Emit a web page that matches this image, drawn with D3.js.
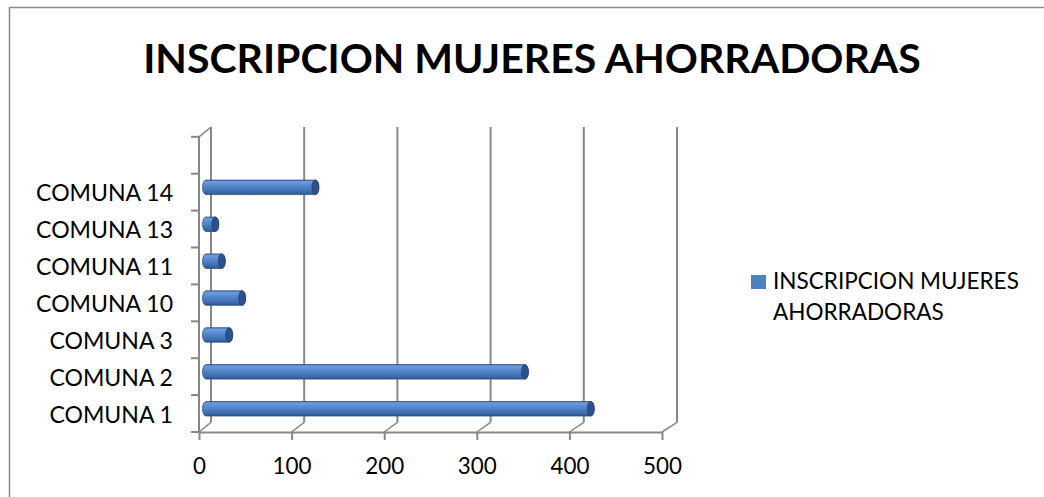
<!DOCTYPE html>
<html>
<head>
<meta charset="utf-8">
<script src="https://cdn.jsdelivr.net/npm/d3@7"></script>
<style>
  body { margin: 0; background: #fff; }
  text { font-family: Lato, "Liberation Sans", Arial, sans-serif; fill: #000; }
</style>
</head>
<body>
<script>
// data
const categories = ["COMUNA 1", "COMUNA 2", "COMUNA 3", "COMUNA 10", "COMUNA 11", "COMUNA 13", "COMUNA 14"];
const inscripciones = [415, 344, 25, 39, 17, 10, 118];
const xTicks = [0, 100, 200, 300, 400, 500];
const seriesName = ["INSCRIPCION MUJERES", "AHORRADORAS"];
const title = "INSCRIPCION MUJERES AHORRADORAS";

const w = 1044, h = 497;
const floorY = 432, depthY = 9.6, wallTop = 127;
const grey = "#878787";

const svg = d3.select("body").append("svg")
    .attr("width", w)
    .attr("height", h);

// size a font so a sample string takes the width it has in the picture
function fitSize(sample, width, weight) {
    const t = svg.append("text")
        .style("font-size", "20px")
        .style("font-weight", weight || "normal")
        .text(sample);
    const len = t.node().getComputedTextLength();
    t.remove();
    return 20 * width / len;
}
const titleSize = fitSize(title, 778, "bold");
const labelSize = fitSize("COMUNA 14", 137);
const tickSize = fitSize("400", 39);
const legendSize = fitSize(seriesName[0], 246);

// outer chart border
svg.append("rect")
    .attr("x", 9.5).attr("y", 7.5)
    .attr("width", w + 20).attr("height", h + 20)
    .attr("fill", "none")
    .attr("stroke", "#8a8a8a")
    .attr("stroke-width", 1.5);

svg.append("text")
    .attr("x", 532).attr("y", 73)
    .attr("text-anchor", "middle")
    .style("font-size", titleSize + "px")
    .style("font-weight", "bold")
    .text(title);

// front, middle (bars) and back planes of the 3d box
const xFront = d3.scaleLinear().domain([0, 500]).range([199, 662]);
const xBack = d3.scaleLinear().domain([0, 500]).range([211, 677]);
const xMid = d3.scaleLinear().domain([0, 500]).range([206, 669.5]);

const step = 36.9;
const y = d3.scaleBand()
    .domain(categories)
    .range([floorY, floorY - step * categories.length]);

const defs = svg.append("defs");
const grad = defs.append("linearGradient")
    .attr("id", "cyl")
    .attr("x1", 0).attr("y1", 0).attr("x2", 0).attr("y2", 1);
[[0, "#3f6ba9"], [0.1, "#6d9ddf"], [0.45, "#5185ca"], [0.85, "#3c69aa"], [1, "#2b4e80"]]
    .forEach(s => grad.append("stop").attr("offset", s[0]).attr("stop-color", s[1]));

// back wall gridlines
svg.append("g").selectAll("line")
    .data(xTicks)
    .enter()
    .append("line")
    .attr("x1", d => xBack(d)).attr("x2", d => xBack(d))
    .attr("y1", floorY - depthY).attr("y2", wallTop)
    .attr("stroke", grey).attr("stroke-width", 2);

// floor depth lines
svg.append("g").selectAll("line")
    .data(xTicks)
    .enter()
    .append("line")
    .attr("x1", d => xFront(d)).attr("y1", floorY)
    .attr("x2", d => xBack(d)).attr("y2", floorY - depthY)
    .attr("stroke", grey).attr("stroke-width", 1.5);

// left wall edge
const yTop = floorY - step * (categories.length + 1);
svg.append("line")
    .attr("x1", xFront(0)).attr("y1", yTop)
    .attr("x2", xBack(0)).attr("y2", yTop - depthY)
    .attr("stroke", grey).attr("stroke-width", 1.5);
svg.append("line")
    .attr("x1", xFront(0)).attr("x2", xFront(0))
    .attr("y1", yTop).attr("y2", floorY)
    .attr("stroke", grey).attr("stroke-width", 2);

// category axis ticks at band boundaries
const yTicks = d3.range(categories.length + 2).map(i => floorY - i * y.step());
svg.append("g").selectAll("line")
    .data(yTicks)
    .enter()
    .append("line")
    .attr("x1", xFront(0) - 8).attr("x2", xFront(0))
    .attr("y1", d => d).attr("y2", d => d)
    .attr("stroke", grey).attr("stroke-width", 2);

svg.append("g").selectAll("text")
    .data(categories)
    .enter()
    .append("text")
    .attr("x", 173)
    .attr("y", d => y(d) + y.bandwidth() / 2 + 9)
    .attr("text-anchor", "end")
    .style("font-size", labelSize + "px")
    .text(d => d);

// value axis on the front edge
const xAxis = d3.axisBottom(xFront)
    .tickValues(xTicks)
    .tickSizeInner(8)
    .tickSizeOuter(0)
    .tickPadding(18);
const gx = svg.append("g")
    .attr("transform", "translate(0," + floorY + ")")
    .call(xAxis);
gx.select(".domain").attr("stroke", grey).attr("stroke-width", 2);
gx.selectAll(".tick line").attr("stroke", grey).attr("stroke-width", 2);
gx.selectAll(".tick text")
    .attr("fill", "#000")
    .attr("dy", null)
    .attr("y", 42)
    .style("font-size", tickSize + "px")
    .style("font-family", "Lato, 'Liberation Sans', Arial, sans-serif");

// cylinders
const barH = 14.5, rx = 3.5, ry = barH / 2;
const bars = svg.append("g").selectAll("g")
    .data(categories)
    .enter()
    .append("g");

bars.append("path")
    .attr("d", (d, i) => {
        const cy = y(d) + y.bandwidth() / 2 - depthY / 2;
        const x0 = xMid(0), x1 = xMid(inscripciones[i]);
        const t = cy - ry, b = cy + ry;
        return "M" + x0 + "," + t + "L" + x1 + "," + t +
               "A" + rx + "," + ry + " 0 0 1 " + x1 + "," + b +
               "L" + x0 + "," + b +
               "A" + rx + "," + ry + " 0 0 1 " + x0 + "," + t + "Z";
    })
    .attr("fill", "url(#cyl)")
    .attr("stroke", "#31568a")
    .attr("stroke-width", 0.8);

bars.append("ellipse")
    .attr("cx", (d, i) => xMid(inscripciones[i]))
    .attr("cy", d => y(d) + y.bandwidth() / 2 - depthY / 2)
    .attr("rx", rx)
    .attr("ry", ry)
    .attr("fill", "#2d5089")
    .attr("stroke", "#264473")
    .attr("stroke-width", 0.8);

// legend
svg.append("rect")
    .attr("x", 751).attr("y", 275)
    .attr("width", 15).attr("height", 14)
    .attr("fill", "#4f81bd");
svg.append("g").selectAll("text")
    .data(seriesName)
    .enter()
    .append("text")
    .attr("x", 773)
    .attr("y", (d, i) => 289 + i * 31)
    .style("font-size", legendSize + "px")
    .text(d => d);
</script>
</body>
</html>
